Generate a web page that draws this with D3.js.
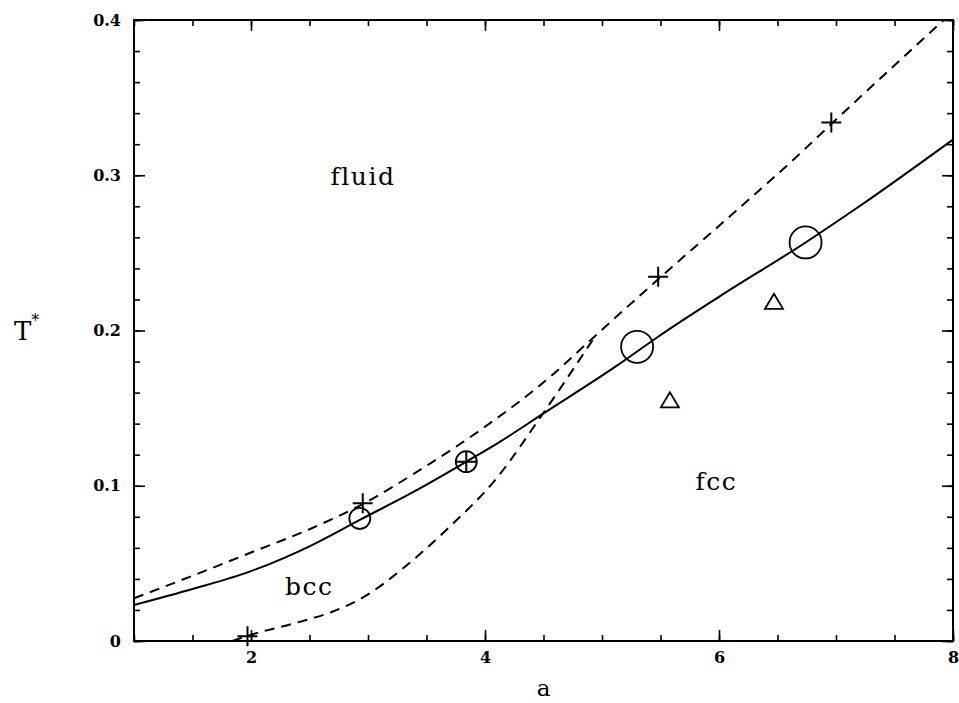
<!DOCTYPE html>
<html>
<head>
<meta charset="utf-8">
<script src="https://cdn.jsdelivr.net/npm/d3@7"></script>
<style>
body { margin: 0; background: #fff; }
svg { display: block; }
.tick text { font-family: "DejaVu Serif", serif; font-weight: bold; font-size: 16px; fill: #000; }
.lbl { font-family: "DejaVu Serif", serif; fill: #000; }
</style>
</head>
<body>
<svg id="chart" width="959" height="703"></svg>
<script>
// coexistence lines: [a, T*]
var fluidSolid = [[1, 0.0232], [1.5, 0.0335], [2, 0.045], [2.5, 0.061], [2.93, 0.078], [3.4, 0.0965],
  [3.84, 0.1155], [4.12, 0.128], [4.5, 0.1466], [5.14, 0.178], [5.48, 0.196], [6.0, 0.2217],
  [6.74, 0.2567], [7.2, 0.280], [8, 0.323]];
var fluidDashed = [[1, 0.0275], [1.5, 0.042], [2, 0.057], [2.5, 0.072], [2.95, 0.088], [3.44, 0.110],
  [4.0, 0.138], [4.57, 0.171], [4.89, 0.193], [5.48, 0.233], [6.25, 0.284], [6.65, 0.311],
  [6.96, 0.333], [7.92, 0.400]];
var bccFcc = [[1.84, 0.0], [2.0, 0.004], [2.4, 0.012], [2.7, 0.019], [3.0, 0.030], [3.27, 0.045],
  [3.69, 0.073], [4.09, 0.104], [4.5, 0.147], [4.93, 0.195]];

// simulation points
var smallCircles = [[2.93, 0.079], [3.84, 0.1155]];
var bigCircles = [[5.30, 0.1895], [6.74, 0.2567]];
var crosses = [[1.97, 0.003], [2.955, 0.0887], [3.84, 0.1155], [5.48, 0.2346], [6.96, 0.334]];
var triangles = [[5.58, 0.155], [6.47, 0.2185]];

var xMajor = [2, 4, 6, 8];
var yMajor = [0, 0.1, 0.2, 0.3, 0.4];
var regionLabels = [
  { text: "fluid", a: 2.68, t: 0.294 },
  { text: "bcc", a: 2.29, t: 0.0295 },
  { text: "fcc", a: 5.8, t: 0.097 }
];

var svg = d3.select("#chart");
var mLeft = 134, mRight = 953, mTop = 20, mBottom = 641;

var x = d3.scaleLinear().domain([1, 8]).range([mLeft, mRight]);
var y = d3.scaleLinear().domain([0, 0.4]).range([mBottom, mTop]);

var xMinor = d3.range(1, 8.01, 0.5);
var yMinor = d3.range(0, 0.401, 0.02);

function fmtY(d) { return d === 0 ? "0" : d3.format(".1f")(d); }

// minor ticks all four sides
svg.append("g").attr("transform", "translate(0," + mBottom + ")")
  .call(d3.axisBottom(x).tickValues(xMinor).tickSize(-6).tickFormat(""));
svg.append("g").attr("transform", "translate(0," + mTop + ")")
  .call(d3.axisTop(x).tickValues(xMinor).tickSize(-6).tickFormat(""));
svg.append("g").attr("transform", "translate(" + mLeft + ",0)")
  .call(d3.axisLeft(y).tickValues(yMinor).tickSize(-6).tickFormat(""));
svg.append("g").attr("transform", "translate(" + mRight + ",0)")
  .call(d3.axisRight(y).tickValues(yMinor).tickSize(-6).tickFormat(""));

// major ticks with labels
svg.append("g").attr("transform", "translate(0," + mBottom + ")")
  .call(d3.axisBottom(x).tickValues(xMajor).tickSize(-11).tickPadding(11).tickFormat(d3.format("d")));
svg.append("g").attr("transform", "translate(0," + mTop + ")")
  .call(d3.axisTop(x).tickValues(xMajor).tickSize(-11).tickFormat(""));
svg.append("g").attr("transform", "translate(" + mLeft + ",0)")
  .call(d3.axisLeft(y).tickValues(yMajor).tickSize(-11).tickPadding(13).tickFormat(fmtY));
svg.append("g").attr("transform", "translate(" + mRight + ",0)")
  .call(d3.axisRight(y).tickValues(yMajor).tickSize(-11).tickFormat(""));

svg.selectAll(".domain").remove();
svg.selectAll(".tick line").attr("stroke", "#000").attr("stroke-width", 1.6);

// frame
svg.append("rect")
  .attr("x", mLeft).attr("y", mTop)
  .attr("width", mRight - mLeft).attr("height", mBottom - mTop)
  .attr("fill", "none").attr("stroke", "#000").attr("stroke-width", 2);

var line = d3.line()
  .x(function(d) { return x(d[0]); })
  .y(function(d) { return y(d[1]); })
  .curve(d3.curveMonotoneX);

svg.append("path").datum(fluidSolid)
  .attr("d", line).attr("fill", "none").attr("stroke", "#000").attr("stroke-width", 2);
svg.append("path").datum(fluidDashed)
  .attr("d", line).attr("fill", "none").attr("stroke", "#000").attr("stroke-width", 2)
  .attr("stroke-dasharray", "10,7");
svg.append("path").datum(bccFcc)
  .attr("d", line).attr("fill", "none").attr("stroke", "#000").attr("stroke-width", 2)
  .attr("stroke-dasharray", "10,7");

// markers
svg.selectAll(".sc").data(smallCircles).enter().append("circle")
  .attr("cx", function(d) { return x(d[0]); })
  .attr("cy", function(d) { return y(d[1]); })
  .attr("r", 10.5).attr("fill", "none").attr("stroke", "#000").attr("stroke-width", 1.8);
svg.selectAll(".bc").data(bigCircles).enter().append("circle")
  .attr("cx", function(d) { return x(d[0]); })
  .attr("cy", function(d) { return y(d[1]); })
  .attr("r", 16).attr("fill", "none").attr("stroke", "#000").attr("stroke-width", 1.8);
svg.selectAll(".cr").data(crosses).enter().append("path")
  .attr("transform", function(d) { return "translate(" + x(d[0]) + "," + y(d[1]) + ")"; })
  .attr("d", "M-10,0H10M0,-10V10")
  .attr("fill", "none").attr("stroke", "#000").attr("stroke-width", 2);
svg.selectAll(".tr").data(triangles).enter().append("path")
  .attr("transform", function(d) { return "translate(" + x(d[0]) + "," + y(d[1]) + ")"; })
  .attr("d", "M-9,7L0,-8L9,7Z")
  .attr("fill", "none").attr("stroke", "#000").attr("stroke-width", 1.8);

// region labels
svg.selectAll(".region").data(regionLabels).enter().append("text")
  .attr("class", "lbl")
  .attr("x", function(d) { return x(d.a); })
  .attr("y", function(d) { return y(d.t); })
  .attr("font-size", 25).attr("letter-spacing", 1.5)
  .text(function(d) { return d.text; });

// axis titles
svg.append("text").attr("class", "lbl")
  .attr("x", (mLeft + mRight) / 2).attr("y", 696)
  .attr("text-anchor", "middle").attr("font-size", 23)
  .text("a");
var tl = svg.append("text").attr("class", "lbl")
  .attr("x", 14).attr("y", 340).attr("font-size", 26);
tl.append("tspan").text("T");
tl.append("tspan").attr("font-size", 16).attr("dy", -14).text("*");
</script>
</body>
</html>
